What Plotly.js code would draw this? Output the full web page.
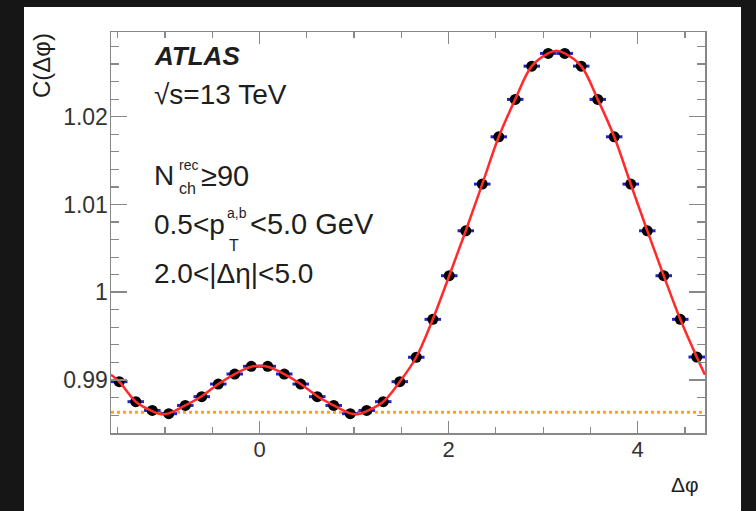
<!DOCTYPE html>
<html>
<head>
<meta charset="utf-8">
<script src="https://cdn.plot.ly/plotly-3.0.1.min.js"></script>
<style>html,body{margin:0;padding:0;background:#161616;}#chart{width:756px;height:511px;}</style>
</head>
<body>
<div id="chart"></div>
<script>
// Δφ bin centres (36 bins over [-π/2, 3π/2])
var phi = [-1.484, -1.309, -1.134, -0.960, -0.785, -0.611, -0.436, -0.262, -0.087,
           0.087, 0.262, 0.436, 0.611, 0.785, 0.960, 1.134, 1.309, 1.484,
           1.658, 1.833, 2.007, 2.182, 2.356, 2.531, 2.705, 2.880, 3.054,
           3.229, 3.403, 3.578, 3.752, 3.927, 4.102, 4.276, 4.451, 4.625];
// measured C(Δφ)
var corr = [0.98981, 0.98753, 0.98653, 0.98616, 0.98710, 0.98810, 0.98954, 0.99068, 0.99156,
            0.99156, 0.99068, 0.98954, 0.98810, 0.98710, 0.98616, 0.98653, 0.98753, 0.98981,
            0.99259, 0.99691, 1.00188, 1.00700, 1.01232, 1.01771, 1.02197, 1.02576, 1.02721,
            1.02721, 1.02576, 1.02197, 1.01771, 1.01232, 1.00700, 1.00188, 0.99691, 0.99262];
var binHalfWidth = 0.0873;
// fit curve
var fitPhi = [-1.571, -1.484, -1.309, -1.134, -1.047, -0.960, -0.785, -0.611, -0.436, -0.262, -0.087, 0.0,
              0.087, 0.262, 0.436, 0.611, 0.785, 0.960, 1.047, 1.134, 1.309, 1.484,
              1.658, 1.833, 2.007, 2.182, 2.356, 2.531, 2.705, 2.880, 3.054, 3.142,
              3.229, 3.403, 3.578, 3.752, 3.927, 4.102, 4.276, 4.451, 4.625, 4.712];
var fitC = [0.99060, 0.98981, 0.98753, 0.98645, 0.98612, 0.98620, 0.98710, 0.98815, 0.98954, 0.99068, 0.99150, 0.99162,
            0.99150, 0.99068, 0.98954, 0.98815, 0.98710, 0.98620, 0.98612, 0.98645, 0.98753, 0.98981,
            0.99259, 0.99691, 1.00188, 1.00700, 1.01232, 1.01771, 1.02197, 1.02576, 1.02721, 1.02750,
            1.02721, 1.02576, 1.02197, 1.01771, 1.01232, 1.00700, 1.00188, 0.99691, 0.99262, 0.99060];
// flat pedestal line
var pedestalPhi = [-1.571, 4.712];
var pedestalC = [0.98632, 0.98632];
var xTickVals = [0, 2, 4];
var yTickVals = [0.99, 1.00, 1.01, 1.02];
var yTickText = ['0.99', '1', '1.01', '1.02'];

var L = 111, R = 705, T = 32, B = 433, W = 756, H = 511;
function px(x) { return (x - L) / (R - L); }
function py(y) { return (B - y) / (B - T); }

var FONT = 'Liberation Sans, Arial, Helvetica, sans-serif';
var txt = '#1e1e1e';

var traces = [
  { x: pedestalPhi, y: pedestalC, mode: 'lines', type: 'scatter',
    line: { color: '#ffa31a', width: 3, dash: 'dot' }, hoverinfo: 'skip', showlegend: false },
  { x: phi, y: corr, mode: 'markers', type: 'scatter',
    marker: { color: '#000000', size: 11, symbol: 'circle' },
    error_x: { type: 'constant', value: binHalfWidth, color: '#2222cc', thickness: 3, width: 0 },
    showlegend: false },
  { x: fitPhi, y: fitC, mode: 'lines', type: 'scatter',
    line: { color: '#ff2a2a', width: 2.5, shape: 'spline', smoothing: 1 }, hoverinfo: 'skip', showlegend: false }
];

function ann(text, x, y, size, extra) {
  var a = { text: text, xref: 'paper', yref: 'paper', x: px(x), y: py(y),
            xanchor: 'left', yanchor: 'middle', showarrow: false, borderpad: 0,
            font: { family: FONT, size: size, color: txt } };
  if (extra) { for (var k in extra) a[k] = extra[k]; }
  return a;
}

var annotations = [
  ann('<b><i>ATLAS</i></b>', 153, 56, 26),
  ann('√s=13 TeV', 153, 94, 28),
  ann('N', 153, 176, 28),
  ann('rec', 178, 165, 14),
  ann('ch', 178, 188, 16),
  ann('≥90', 200, 176, 29),
  ann('0.5<p', 153, 224, 28),
  ann('a,b', 226, 213, 14),
  ann('T', 228, 245, 16),
  ann('<5.0 GeV', 249, 224, 29),
  ann('2.0<|Δη|<5.0', 153, 273, 28),
  ann('C(Δφ)', 41, 66, 24, { xanchor: 'center', textangle: -90 }),
  ann('Δφ', 700, 484, 21, { xanchor: 'right' })
];

var shapes = [
  { type: 'rect', xref: 'paper', yref: 'paper', layer: 'below',
    x0: px(24), x1: px(741), y0: py(511), y1: py(7),
    fillcolor: '#ffffff', line: { width: 0 } }
];

var layout = {
  width: W, height: H,
  margin: { l: L, r: W - R, t: T, b: H - B, pad: 0 },
  paper_bgcolor: '#161616', plot_bgcolor: '#ffffff',
  showlegend: false,
  font: { family: FONT, color: '#333333' },
  xaxis: {
    range: [-1.5708, 4.7124], tickmode: 'array', tickvals: xTickVals,
    ticks: 'inside', ticklen: 12, tickwidth: 1.5, tickcolor: '#888888',
    showline: true, linecolor: '#888888', linewidth: 1.5, mirror: 'ticks',
    showgrid: false, zeroline: false, ticklabelstandoff: -4,
    tickfont: { family: FONT, size: 22, color: '#333333' },
    minor: { dtick: 0.5, tick0: 0, ticks: 'inside', ticklen: 6, tickwidth: 1.2, tickcolor: '#888888', showgrid: false }
  },
  yaxis: {
    range: [0.98396, 1.02965], tickmode: 'array', tickvals: yTickVals, ticktext: yTickText,
    ticks: 'inside', ticklen: 16, tickwidth: 1.5, tickcolor: '#888888',
    showline: true, linecolor: '#888888', linewidth: 1.5, mirror: 'ticks',
    showgrid: false, zeroline: false, ticklabelstandoff: -3,
    tickfont: { family: FONT, size: 23, color: '#333333' },
    minor: { dtick: 0.002, tick0: 0.99, ticks: 'inside', ticklen: 8, tickwidth: 1.2, tickcolor: '#888888', showgrid: false }
  },
  annotations: annotations,
  shapes: shapes
};

Plotly.newPlot('chart', traces, layout, { staticPlot: true, displayModeBar: false });
</script>
</body>
</html>
